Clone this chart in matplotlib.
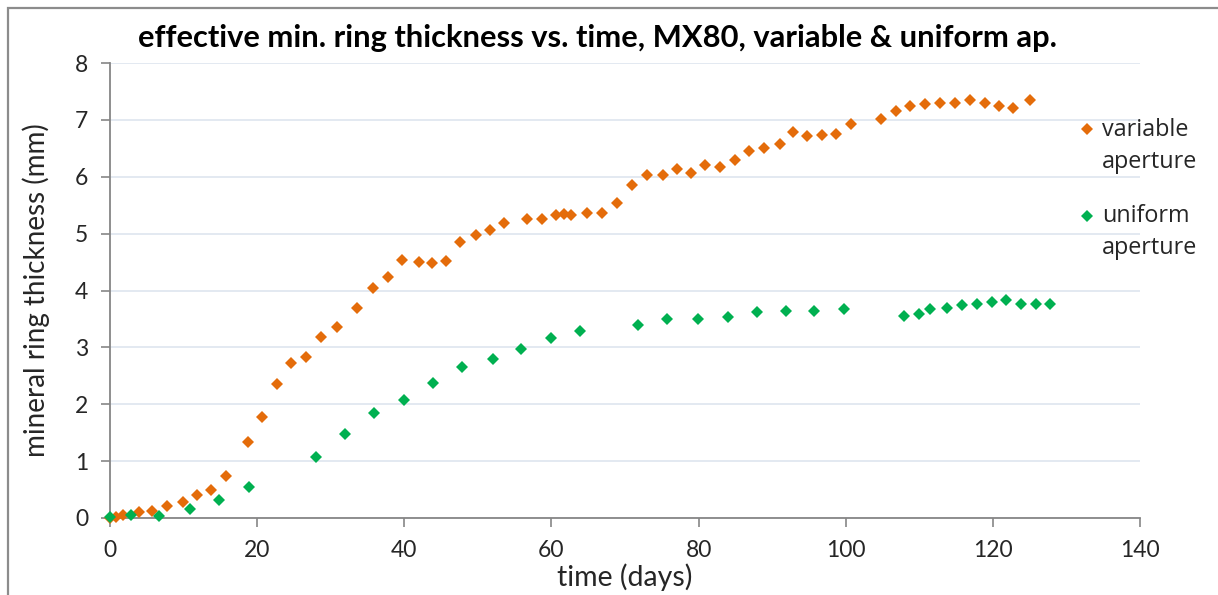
import matplotlib
matplotlib.use("Agg")
import matplotlib.pyplot as plt
from matplotlib.patches import Rectangle
from matplotlib.lines import Line2D

# variable-aperture run: time (days) and effective min. ring thickness (mm)
var_days = [0, 0.8, 1.8, 3.9, 5.7, 7.8, 9.9, 11.8, 13.7, 15.8, 18.7, 20.7, 22.7,
            24.6, 26.7, 28.7, 30.8, 33.6, 35.7, 37.8, 39.7, 42.0, 43.7, 45.7,
            47.6, 49.7, 51.6, 53.6, 56.7, 58.7, 60.6, 61.7, 62.7, 64.8, 66.9,
            68.9, 70.9, 73.0, 75.1, 77.0, 79.0, 80.9, 82.9, 84.9, 86.9, 88.9,
            91.0, 92.9, 94.8, 96.8, 98.7, 100.7, 104.8, 106.9, 108.8, 110.8,
            112.8, 114.9, 116.9, 118.9, 120.9, 122.8, 125.0]
var_thick = [0.0, 0.02, 0.05, 0.10, 0.12, 0.21, 0.28, 0.40, 0.49, 0.74, 1.33, 1.77,
             2.36, 2.72, 2.83, 3.19, 3.36, 3.70, 4.05, 4.24, 4.54, 4.50, 4.48,
             4.52, 4.86, 4.97, 5.06, 5.18, 5.25, 5.26, 5.33, 5.35, 5.33, 5.36,
             5.36, 5.54, 5.85, 6.03, 6.03, 6.14, 6.06, 6.20, 6.17, 6.30, 6.46,
             6.50, 6.57, 6.79, 6.71, 6.74, 6.75, 6.92, 7.01, 7.15, 7.25, 7.28,
             7.30, 7.30, 7.35, 7.30, 7.25, 7.21, 7.35]

# uniform-aperture run
uni_days = [0, 2.9, 6.7, 10.9, 14.8, 18.9, 28.0, 31.9, 35.9, 39.9, 43.9, 47.9,
            52.0, 55.8, 59.9, 63.9, 71.7, 75.7, 79.9, 84.0, 88.0, 91.9, 95.7,
            99.8, 107.9, 109.9, 111.5, 113.8, 115.8, 117.8, 119.9, 121.8,
            123.8, 125.9, 127.8]
uni_thick = [0.02, 0.05, 0.04, 0.16, 0.32, 0.54, 1.07, 1.47, 1.84, 2.08, 2.38,
             2.66, 2.80, 2.97, 3.17, 3.29, 3.39, 3.50, 3.50, 3.54, 3.62, 3.64,
             3.64, 3.67, 3.56, 3.58, 3.67, 3.70, 3.74, 3.77, 3.80, 3.83, 3.77,
             3.77, 3.77]

x_ticks = [0, 20, 40, 60, 80, 100, 120, 140]
y_ticks = [0, 1, 2, 3, 4, 5, 6, 7, 8]
series_labels = ["variable\naperture", "uniform\naperture"]

ORANGE = "#E46C0A"
GREEN = "#00B050"
AXIS_GRAY = "#868686"
GRID = "#E3E9F1"
TEXT = "#262626"

W, H = 1218, 595
fig = plt.figure(figsize=(W / 100, H / 100), dpi=100)
fig.patch.set_facecolor("white")

ax = fig.add_axes([110 / W, 1 - 518 / H, 1030 / W, 455 / H])
ax.set_xlim(0, 140)
ax.set_ylim(0, 8)
ax.set_xticks(x_ticks)
ax.set_yticks(y_ticks)

ax.plot(var_days, var_thick, linestyle="none", marker="D", ms=6.6,
        mew=0, color=ORANGE, clip_on=False, zorder=3)
ax.plot(uni_days, uni_thick, linestyle="none", marker="D", ms=6.6,
        mew=0, color=GREEN, clip_on=False, zorder=4)

ax.grid(axis="y", color=GRID, lw=1.4)
ax.set_axisbelow(True)
for side in ("top", "right"):
    ax.spines[side].set_visible(False)
for side in ("left", "bottom"):
    ax.spines[side].set_color(AXIS_GRAY)
    ax.spines[side].set_linewidth(1.3)
ax.tick_params(axis="both", direction="out", length=6.5, width=1.2,
               color=AXIS_GRAY, labelcolor=TEXT, labelsize=16.5, pad=9)
for lab in ax.get_xticklabels() + ax.get_yticklabels():
    lab.set_fontfamily("Lato")

ax.set_xlabel("time (days)", fontsize=20.5, family="Lato", color=TEXT, labelpad=2)
ax.set_ylabel("mineral ring thickness (mm)", fontsize=20, family="Lato",
              color=TEXT, labelpad=18)

fig.text(597 / W, 1 - 38 / H,
         "effective min. ring thickness vs. time, MX80, variable & uniform ap.",
         ha="center", va="center", fontsize=22.2, fontweight="bold",
         family="Lato", color="black")

# legend entries on the right
for label, color, y_px in zip(series_labels, [ORANGE, GREEN], [129, 215.5]):
    fig.add_artist(Line2D([1086.7 / W], [1 - y_px / H], marker="D", ms=6.6,
                          mew=0, color=color, linestyle="none",
                          transform=fig.transFigure))
    fig.text(1102 / W, 1 - (y_px - 11) / H, label, ha="left", va="top",
             fontsize=16.8, family="Open Sans", color=TEXT, linespacing=1.42)

# outer chart frame
fig.add_artist(Rectangle((8 / W, -0.1), 1.2, 1.1 - 8 / H, fill=False,
                         edgecolor="#8C8C8C", lw=1.6, transform=fig.transFigure))

fig.savefig("out.png", dpi=100, facecolor="white")
